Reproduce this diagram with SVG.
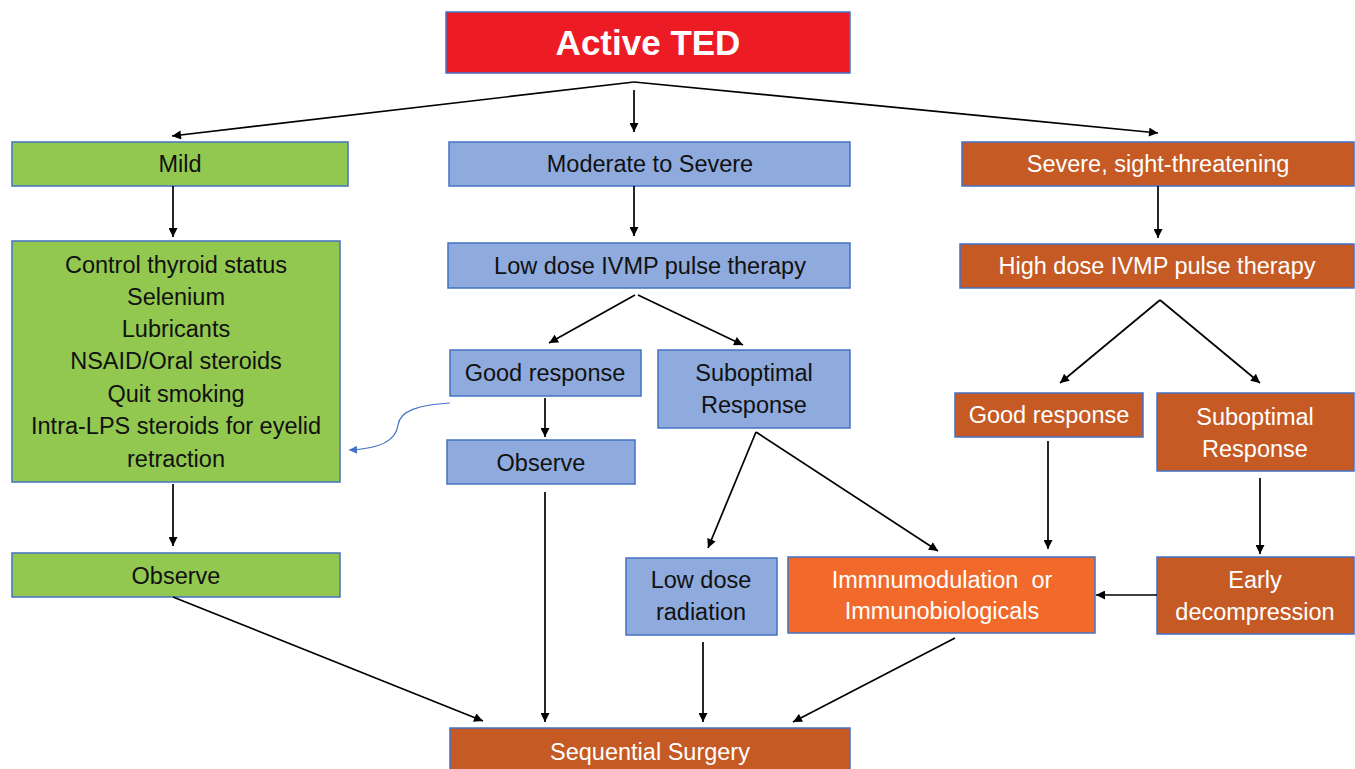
<svg xmlns="http://www.w3.org/2000/svg" width="1355" height="769" viewBox="0 0 1355 769">
<defs>
<marker id="ah" viewBox="0 0 10 10" refX="10" refY="5" markerWidth="10" markerHeight="9" markerUnits="userSpaceOnUse" orient="auto">
<path d="M0,0 L10,5 L0,10 z" fill="#000"/>
</marker>
<marker id="ahb" viewBox="0 0 10 10" refX="10" refY="5" markerWidth="9" markerHeight="8" markerUnits="userSpaceOnUse" orient="auto">
<path d="M0,0 L10,5 L0,10 z" fill="#4472C4"/>
</marker>
<style>
rect{stroke:#4472C4;stroke-width:1.5}
.g{fill:#92C84F}
.b{fill:#8FAADC}
.o{fill:#C55A24}
.io{fill:#F26A2B}
.r{fill:#ED1C24}
text{font-family:"Liberation Sans",Arial,sans-serif;font-size:23.5px;text-anchor:middle}
.w{fill:#fff}
.k{fill:#111}
.c line,.c path{stroke:#000;stroke-width:1.7;fill:none;marker-end:url(#ah)}
</style>
</defs>
<rect width="1355" height="769" fill="#fff" style="stroke:none"/>
<g id="active-ted"><rect class="r" x="446" y="12" width="404" height="61"/><text class="w" x="648" y="55" style="font-size:35px;font-weight:bold">Active TED</text></g>
<g id="mild"><rect class="g" x="12" y="142" width="336" height="44"/><text class="k" x="180" y="172">Mild</text></g>
<g id="moderate"><rect class="b" x="449" y="142" width="401" height="44"/><text class="k" x="650" y="172">Moderate to Severe</text></g>
<g id="severe"><rect class="o" x="962" y="142" width="392" height="44"/><text class="w" x="1158" y="172">Severe, sight-threatening</text></g>
<g id="mild-treatments"><rect class="g" x="12" y="241" width="328" height="241"/>
<text class="k" x="176" y="273">Control thyroid status</text>
<text class="k" x="176" y="305">Selenium</text>
<text class="k" x="176" y="337">Lubricants</text>
<text class="k" x="176" y="369">NSAID/Oral steroids</text>
<text class="k" x="176" y="402">Quit smoking</text>
<text class="k" x="176" y="434">Intra-LPS steroids for eyelid</text>
<text class="k" x="176" y="467">retraction</text></g>
<g id="low-ivmp"><rect class="b" x="448" y="243" width="402" height="45"/><text class="k" x="650" y="274">Low dose IVMP pulse therapy</text></g>
<g id="high-ivmp"><rect class="o" x="960" y="244" width="394" height="44"/><text class="w" x="1157" y="274">High dose IVMP pulse therapy</text></g>
<g id="good-mod"><rect class="b" x="450" y="350" width="191" height="46"/><text class="k" x="545" y="381">Good response</text></g>
<g id="subopt-mod"><rect class="b" x="658" y="350" width="192" height="78"/><text class="k" x="754" y="381">Suboptimal</text><text class="k" x="754" y="413">Response</text></g>
<g id="observe-mod"><rect class="b" x="447" y="440" width="188" height="44"/><text class="k" x="541" y="471">Observe</text></g>
<g id="good-sev"><rect class="o" x="955" y="393" width="188" height="44"/><text class="w" x="1049" y="423">Good response</text></g>
<g id="subopt-sev"><rect class="o" x="1157" y="393" width="197" height="78"/><text class="w" x="1255" y="425">Suboptimal</text><text class="w" x="1255" y="457">Response</text></g>
<g id="observe-mild"><rect class="g" x="12" y="553" width="328" height="44"/><text class="k" x="176" y="584">Observe</text></g>
<g id="low-radiation"><rect class="b" x="626" y="558" width="151" height="77"/><text class="k" x="701" y="588">Low dose</text><text class="k" x="701" y="620">radiation</text></g>
<g id="immuno"><rect class="io" x="788" y="557" width="307" height="76"/><text class="w" x="942" y="588" xml:space="preserve">Immnumodulation  or</text><text class="w" x="942" y="619">Immunobiologicals</text></g>
<g id="early-decomp"><rect class="o" x="1157" y="557" width="197" height="77"/><text class="w" x="1255" y="588">Early</text><text class="w" x="1255" y="620">decompression</text></g>
<g id="surgery"><rect class="o" x="450" y="728" width="400" height="50"/><text class="w" x="650" y="760">Sequential Surgery</text></g>
<g id="connectors" class="c">
<path d="M634,82 L172,136"/>
<path d="M634,82 L1158,133"/>
<line x1="634" y1="90" x2="634" y2="132"/>
<line x1="173" y1="186" x2="173" y2="237"/>
<line x1="634" y1="186" x2="634" y2="236"/>
<line x1="1158" y1="186" x2="1158" y2="238"/>
<line x1="635" y1="295" x2="549" y2="343"/>
<line x1="638" y1="295" x2="743" y2="345"/>
<line x1="1160" y1="300" x2="1060" y2="383"/>
<line x1="1160" y1="300" x2="1260" y2="383"/>
<line x1="545" y1="398" x2="545" y2="437"/>
<line x1="756" y1="432" x2="708" y2="548"/>
<line x1="756" y1="432" x2="938" y2="551"/>
<line x1="545" y1="492" x2="545" y2="722"/>
<line x1="173" y1="484" x2="173" y2="546"/>
<line x1="173" y1="597" x2="483" y2="721"/>
<line x1="703" y1="642" x2="703" y2="722"/>
<line x1="955" y1="638" x2="793" y2="722"/>
<line x1="1157" y1="595" x2="1096" y2="595"/>
<line x1="1048" y1="441" x2="1048" y2="549"/>
<line x1="1260" y1="478" x2="1260" y2="554"/>
<path d="M450,403 C420,405 400,410 398,425 C396,442 378,449 349,450" style="stroke:#4472C4;stroke-width:1.2;marker-end:url(#ahb)"/>
</g>
</svg>
